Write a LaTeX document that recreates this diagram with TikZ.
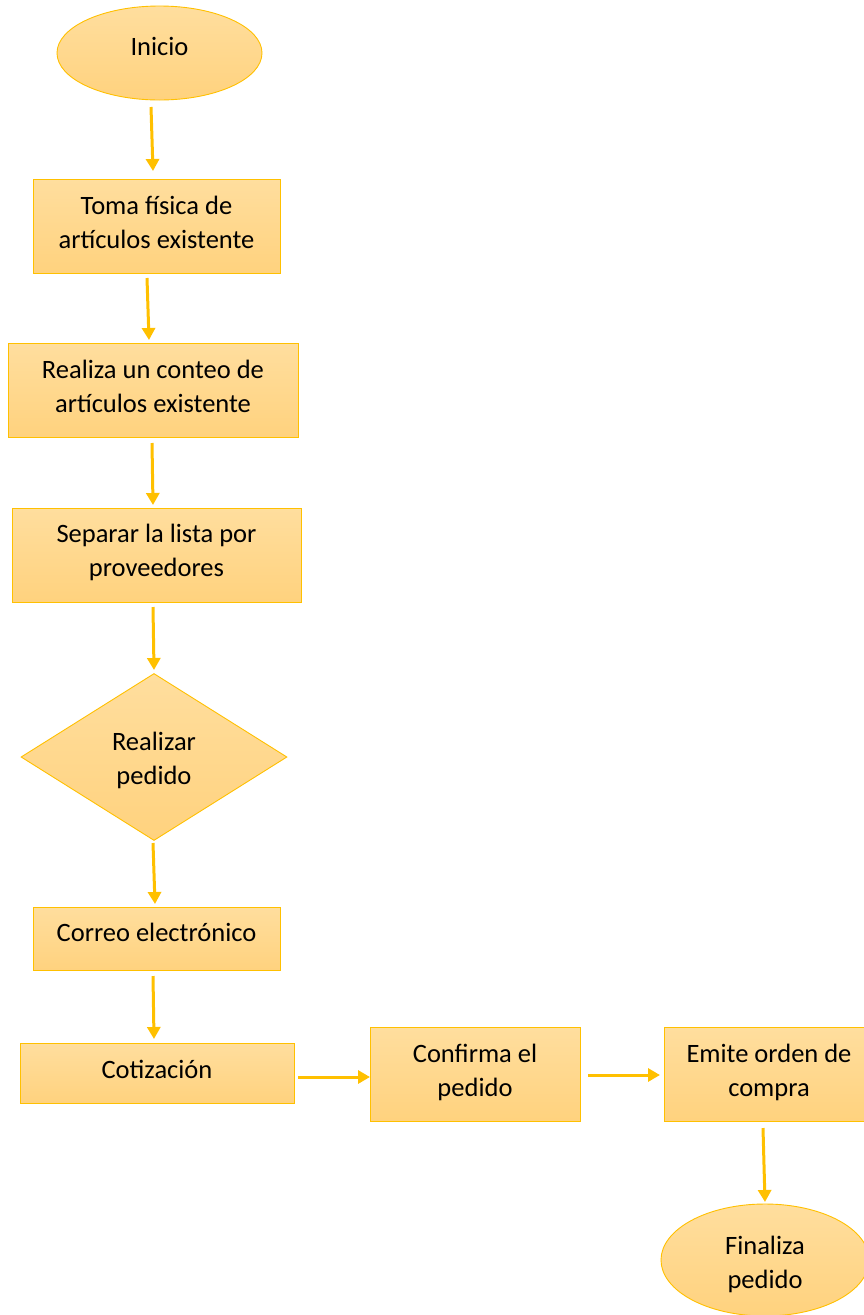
\documentclass[tikz,border=0pt]{standalone}
\usepackage{fontspec}
\setmainfont{Carlito}
\usetikzlibrary{shapes.geometric,arrows.meta}
\definecolor{gold}{HTML}{FFC000}
\definecolor{filltop}{HTML}{FFDE9E}
\definecolor{fillbot}{HTML}{FFD27E}
% text block shifted up (positive) or down (negative) inside its shape,
% keeping its natural size so that the shape stays where it is
\newcommand{\liftedtext}[2]{\raisebox{#1}[\height][\depth]{\begin{tabular}{@{}c@{}}#2\end{tabular}}}
\tikzset{
  shapebase/.style={draw=gold, line width=0.9pt, top color=filltop, bottom color=fillbot,
    inner sep=0pt, align=center, text=black,
    font=\fontsize{26.5}{34}\selectfont},
  procbox/.style={shapebase, rectangle},
  term/.style={shapebase, ellipse},
  decision/.style={shapebase, diamond},
  arr/.style={draw=gold, line width=3pt, -{Triangle[length=12pt,width=13pt]}}
}
\begin{document}
\begin{tikzpicture}[x=1pt,y=-1pt]
\useasboundingbox (0,0) rectangle (864,1315);
\clip (0,0) rectangle (864,1315);
\fill[white] (0,0) rectangle (864,1315);

% process nodes
\node[term, minimum width=205pt, minimum height=94pt] (inicio) at (159.5,53) {\liftedtext{4pt}{Inicio}};
\node[procbox, minimum width=247pt, minimum height=94pt] (toma) at (156.5,226) {\liftedtext{1pt}{Toma física de\\artículos existente}};
\node[procbox, minimum width=290pt, minimum height=94pt] (conteo) at (153,390) {\liftedtext{1pt}{Realiza un conteo de\\artículos existente}};
\node[procbox, minimum width=289pt, minimum height=94pt] (separar) at (156.5,555) {\liftedtext{2pt}{Separar la lista por\\proveedores}};
\node[decision, minimum width=266pt, minimum height=167pt] (pedido) at (154,757) {\liftedtext{-4pt}{Realizar\\pedido}};
\node[procbox, minimum width=247pt, minimum height=63pt] (correo) at (156.5,938.5) {\liftedtext{4pt}{Correo electrónico}};
\node[procbox, minimum width=274pt, minimum height=60pt] (cotiz) at (157,1073) {\liftedtext{1pt}{Cotización}};
\node[procbox, minimum width=210pt, minimum height=94pt] (confirma) at (475,1074) {\liftedtext{1pt}{Confirma el\\pedido}};
\node[procbox, minimum width=210pt, minimum height=94pt] (emite) at (769,1074) {\liftedtext{1pt}{Emite orden de\\compra}};
\node[term, minimum width=208pt, minimum height=112pt] (fin) at (765,1260) {\liftedtext{-5pt}{Finaliza\\pedido}};

% connector end points
\coordinate (a1s) at (151,107);  \coordinate (a1e) at (153,171);
\coordinate (a2s) at (147,278);  \coordinate (a2e) at (149,340);
\coordinate (a3s) at (152,443);  \coordinate (a3e) at (153,505);
\coordinate (a4s) at (153,607);  \coordinate (a4e) at (154,670);
\coordinate (a5s) at (153,843);  \coordinate (a5e) at (155,904);
\coordinate (a6s) at (153,976);  \coordinate (a6e) at (154,1039);
\coordinate (a7s) at (298,1077); \coordinate (a7e) at (370,1077);
\coordinate (a8s) at (588,1075); \coordinate (a8e) at (660,1075);
\coordinate (a9s) at (763,1128); \coordinate (a9e) at (765,1202);

\draw[arr] (a1s) -- (a1e);
\draw[arr] (a2s) -- (a2e);
\draw[arr] (a3s) -- (a3e);
\draw[arr] (a4s) -- (a4e);
\draw[arr] (a5s) -- (a5e);
\draw[arr] (a6s) -- (a6e);
\draw[arr] (a7s) -- (a7e);
\draw[arr] (a8s) -- (a8e);
\draw[arr] (a9s) -- (a9e);
\end{tikzpicture}
\end{document}
